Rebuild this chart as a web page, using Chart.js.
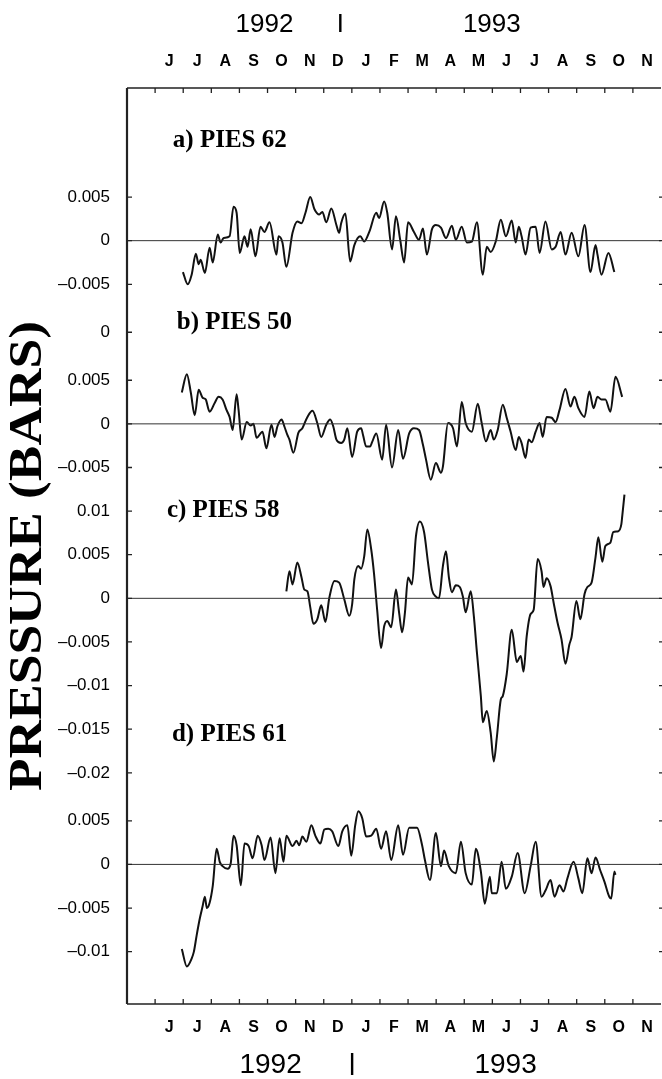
<!DOCTYPE html>
<html>
<head>
<meta charset="utf-8">
<script src="https://cdn.jsdelivr.net/npm/chart.js@4.4.1/dist/chart.umd.min.js"></script>
<style>
    html, body { margin: 0; padding: 0; background: #fff; }
    canvas { display: block; }
</style>
</head>
<body>
<canvas id="piesChart" width="662" height="1079"></canvas>
<script>
// time axis: months counted from Jan 1992 (6 = 1 Jul 1992, 12 = 1 Jan 1993)
const monthLetters = ['J', 'J', 'A', 'S', 'O', 'N', 'D', 'J', 'F', 'M', 'A', 'M', 'J', 'J', 'A', 'S', 'O', 'N'];
const firstLabelMonth = 5;
const axisStart = 4;
const axisEnd = 23;
const yearLabels = ['1992', '1993'];

const panelNames = ['a) PIES 62', 'b) PIES 50', 'c) PIES 58', 'd) PIES 61'];
// where each panel's zero sits on the shared stacked axis
const panelOffsets = [0.0875, 0.0665, 0.0465, 0.016];
const panelTickValues = [
    [0.005, 0, -0.005],
    [0.0105, 0.005, 0, -0.005],
    [0.01, 0.005, 0, -0.005, -0.01, -0.015, -0.02],
    [0.005, 0, -0.005, -0.01]
];
const panelTickLabels = [
    ['0.005', '0', '\u20130.005'],
    ['0', '0.005', '0', '\u20130.005'],
    ['0.01', '0.005', '0', '\u20130.005', '\u20130.01', '\u20130.015', '\u20130.02'],
    ['0.005', '0', '\u20130.005', '\u20130.01']
];

// bottom pressure, bars
const pies62Months = [5.99, 6.16, 6.30, 6.45, 6.55, 6.62, 6.77, 6.94, 7.05, 7.23, 7.33, 7.44, 7.65, 7.79, 7.90, 8.01, 8.18, 8.29, 8.40, 8.57, 8.75, 8.89, 9.07, 9.32, 9.39, 9.53, 9.67, 9.89, 10.06, 10.21, 10.35, 10.52, 10.67, 10.84, 10.95, 11.09, 11.27, 11.45, 11.55, 11.62, 11.77, 11.94, 12.09, 12.30, 12.44, 12.62, 12.87, 12.97, 13.15, 13.26, 13.43, 13.57, 13.72, 13.86, 14.00, 14.21, 14.39, 14.53, 14.67, 14.85, 14.99, 15.17, 15.35, 15.56, 15.70, 15.91, 16.09, 16.27, 16.45, 16.66, 16.80, 16.94, 17.12, 17.30, 17.48, 17.69, 17.83, 17.94, 18.04, 18.18, 18.36, 18.54, 18.68, 18.89, 19.11, 19.25, 19.43, 19.60, 19.82, 20.06, 20.28, 20.49, 20.67, 20.74, 20.88, 21.13, 21.34];
const pies62Values = [-0.0036, -0.0050, -0.0039, -0.0015, -0.0027, -0.0022, -0.0037, -0.0008, -0.0025, 0.0007, -0.0002, 0.0003, 0.0005, 0.0039, 0.0032, -0.0014, 0.0005, -0.0007, 0.0013, -0.0018, 0.0016, 0.0010, 0.0021, -0.0016, 0.0005, -0.0002, -0.0030, 0.0009, 0.0022, 0.0020, 0.0032, 0.0050, 0.0036, 0.0030, 0.0033, 0.0021, 0.0037, 0.0018, 0.0009, 0.0020, 0.0031, -0.0024, -0.0005, 0.0005, -0.0001, 0.0010, 0.0032, 0.0026, 0.0045, 0.0032, -0.0010, 0.0028, 0.0001, -0.0025, 0.0021, 0.0010, 0.0001, 0.0014, -0.0016, 0.0013, 0.0018, 0.0015, 0.0003, 0.0017, 0.0001, 0.0016, -0.0002, -0.0001, 0.0021, -0.0039, -0.0007, -0.0013, -0.0001, 0.0024, 0.0005, 0.0023, -0.0002, 0.0016, 0.0005, -0.0016, 0.0015, 0.0016, -0.0014, 0.0022, -0.0010, -0.0007, 0.0010, -0.0016, 0.0009, -0.0018, 0.0018, -0.0036, -0.0005, -0.0016, -0.0039, -0.0014, -0.0036];

const pies50Months = [5.95, 6.13, 6.27, 6.41, 6.55, 6.69, 6.80, 6.94, 7.12, 7.26, 7.40, 7.54, 7.65, 7.76, 7.90, 7.97, 8.08, 8.26, 8.40, 8.50, 8.61, 8.82, 8.96, 9.14, 9.25, 9.35, 9.50, 9.60, 9.71, 9.78, 9.92, 10.10, 10.24, 10.42, 10.60, 10.77, 10.91, 11.09, 11.23, 11.34, 11.45, 11.62, 11.73, 11.84, 12.01, 12.19, 12.33, 12.40, 12.51, 12.65, 12.72, 12.87, 13.08, 13.22, 13.43, 13.65, 13.82, 14.04, 14.21, 14.39, 14.53, 14.64, 14.81, 14.99, 15.17, 15.24, 15.42, 15.60, 15.74, 15.91, 16.05, 16.27, 16.48, 16.62, 16.77, 16.94, 17.05, 17.19, 17.37, 17.51, 17.65, 17.83, 17.94, 18.04, 18.18, 18.29, 18.40, 18.54, 18.68, 18.79, 18.93, 19.11, 19.25, 19.39, 19.60, 19.78, 19.92, 20.06, 20.28, 20.45, 20.60, 20.74, 20.88, 21.02, 21.20, 21.38, 21.62];
const pies50Values = [0.0036, 0.0057, 0.0036, 0.0010, 0.0039, 0.0030, 0.0028, 0.0014, 0.0024, 0.0031, 0.0028, 0.0016, 0.0008, -0.0007, 0.0034, 0.0016, -0.0018, 0.0002, -0.0002, 0.0000, -0.0016, -0.0009, -0.0028, -0.0001, -0.0015, -0.0003, 0.0005, -0.0003, -0.0013, -0.0018, -0.0033, -0.0010, -0.0005, 0.0008, 0.0015, 0.0001, -0.0015, -0.0001, 0.0005, -0.0003, -0.0018, -0.0022, -0.0018, -0.0005, -0.0038, -0.0009, -0.0005, -0.0013, -0.0026, -0.0026, -0.0021, -0.0011, -0.0041, -0.0001, -0.0050, -0.0007, -0.0040, -0.0011, -0.0005, -0.0007, -0.0024, -0.0041, -0.0064, -0.0045, -0.0056, -0.0049, 0.0001, -0.0005, -0.0026, 0.0025, 0.0001, -0.0009, 0.0023, 0.0001, -0.0020, -0.0007, -0.0018, -0.0007, 0.0022, 0.0007, -0.0009, -0.0030, -0.0015, -0.0022, -0.0039, -0.0018, -0.0021, -0.0009, 0.0001, -0.0015, 0.0008, 0.0007, 0.0002, 0.0016, 0.0040, 0.0020, 0.0031, 0.0018, 0.0008, 0.0037, 0.0018, 0.0031, 0.0028, 0.0028, 0.0014, 0.0054, 0.0031];

const pies58Months = [9.67, 9.78, 9.89, 10.06, 10.21, 10.31, 10.42, 10.52, 10.63, 10.77, 10.91, 11.06, 11.20, 11.38, 11.55, 11.73, 11.91, 12.01, 12.09, 12.23, 12.33, 12.44, 12.55, 12.69, 12.79, 12.90, 13.04, 13.15, 13.26, 13.40, 13.57, 13.68, 13.79, 13.89, 14.00, 14.14, 14.28, 14.42, 14.57, 14.71, 14.85, 14.99, 15.10, 15.24, 15.35, 15.45, 15.56, 15.70, 15.84, 15.95, 16.05, 16.23, 16.34, 16.45, 16.59, 16.66, 16.80, 16.94, 17.05, 17.16, 17.30, 17.37, 17.51, 17.69, 17.87, 18.01, 18.11, 18.22, 18.36, 18.47, 18.61, 18.75, 18.82, 18.93, 19.07, 19.18, 19.32, 19.46, 19.60, 19.74, 19.82, 19.99, 20.13, 20.28, 20.38, 20.53, 20.67, 20.77, 20.91, 21.02, 21.20, 21.30, 21.48, 21.59, 21.62, 21.70];
const pies58Values = [0.0008, 0.0031, 0.0016, 0.0041, 0.0024, 0.0010, 0.0008, -0.0010, -0.0029, -0.0024, -0.0008, -0.0027, 0.0001, 0.0020, 0.0018, -0.0001, -0.0020, -0.0007, 0.0022, 0.0037, 0.0034, 0.0048, 0.0079, 0.0056, 0.0028, -0.0013, -0.0057, -0.0032, -0.0026, -0.0033, 0.0010, -0.0016, -0.0039, -0.0016, 0.0024, 0.0016, 0.0071, 0.0088, 0.0076, 0.0041, 0.0010, 0.0002, 0.0000, 0.0037, 0.0054, 0.0025, 0.0007, 0.0015, 0.0013, 0.0002, -0.0016, 0.0008, -0.0020, -0.0062, -0.0112, -0.0142, -0.0129, -0.0154, -0.0187, -0.0159, -0.0116, -0.0112, -0.0087, -0.0036, -0.0073, -0.0066, -0.0084, -0.0044, -0.0018, -0.0013, 0.0045, 0.0031, 0.0013, 0.0023, 0.0014, -0.0005, -0.0028, -0.0047, -0.0075, -0.0053, -0.0044, -0.0003, -0.0024, 0.0005, 0.0013, 0.0018, 0.0047, 0.0070, 0.0042, 0.0060, 0.0064, 0.0076, 0.0077, 0.0085, 0.0094, 0.0119];

const pies61Months = [5.95, 6.13, 6.30, 6.38, 6.48, 6.59, 6.69, 6.77, 6.84, 6.94, 7.05, 7.19, 7.30, 7.40, 7.58, 7.69, 7.79, 7.90, 8.05, 8.18, 8.33, 8.47, 8.65, 8.79, 8.89, 9.11, 9.28, 9.43, 9.57, 9.67, 9.89, 10.03, 10.13, 10.24, 10.38, 10.56, 10.70, 10.88, 11.02, 11.16, 11.30, 11.52, 11.66, 11.84, 11.98, 12.12, 12.23, 12.37, 12.51, 12.69, 12.87, 13.04, 13.22, 13.40, 13.65, 13.82, 14.04, 14.32, 14.50, 14.60, 14.78, 14.99, 15.17, 15.28, 15.45, 15.70, 15.88, 16.05, 16.27, 16.41, 16.59, 16.73, 16.91, 16.98, 17.16, 17.33, 17.48, 17.69, 17.90, 18.15, 18.36, 18.54, 18.75, 18.89, 19.07, 19.21, 19.39, 19.53, 19.67, 19.89, 20.06, 20.20, 20.38, 20.53, 20.67, 20.84, 20.99, 21.16, 21.23, 21.34, 21.38];
const pies61Values = [-0.0097, -0.0117, -0.0108, -0.0100, -0.0081, -0.0062, -0.0048, -0.0037, -0.0050, -0.0044, -0.0025, 0.0018, 0.0003, -0.0002, -0.0005, 0.0001, 0.0033, 0.0022, -0.0024, 0.0024, 0.0021, 0.0007, 0.0033, 0.0022, 0.0005, 0.0031, -0.0010, 0.0030, 0.0003, 0.0033, 0.0021, 0.0027, 0.0022, 0.0032, 0.0026, 0.0045, 0.0033, 0.0024, 0.0040, 0.0041, 0.0038, 0.0021, 0.0038, 0.0045, 0.0010, 0.0045, 0.0061, 0.0053, 0.0032, 0.0033, 0.0041, 0.0018, 0.0038, 0.0005, 0.0045, 0.0011, 0.0042, 0.0042, 0.0022, 0.0005, -0.0018, 0.0036, -0.0002, 0.0016, -0.0002, -0.0010, 0.0026, -0.0010, -0.0023, 0.0018, -0.0008, -0.0045, -0.0014, -0.0033, -0.0033, 0.0003, -0.0028, -0.0014, 0.0013, -0.0033, -0.0002, 0.0026, -0.0037, -0.0030, -0.0018, -0.0037, -0.0024, -0.0031, -0.0016, 0.0003, -0.0016, -0.0033, 0.0007, -0.0010, 0.0008, -0.0007, -0.0020, -0.0037, -0.0039, -0.0008, -0.0012];

const seriesMonths = [pies62Months, pies50Months, pies58Months, pies61Months];
const seriesValues = [pies62Values, pies50Values, pies58Values, pies61Values];

const labelFont = '"Liberation Sans", Arial, Helvetica, sans-serif';
const serifFont = '"Liberation Serif", "Times New Roman", serif';
const ink = '#000';

function buildSeries(i) {
    return seriesMonths[i].map(function (m, k) {
        return { x: m, y: seriesValues[i][k] + panelOffsets[i] };
    });
}

// all tick labels on the one stacked axis
const stackedTicks = [];
panelTickValues.forEach(function (vals, i) {
    vals.forEach(function (v, k) {
        stackedTicks.push({ value: +(v + panelOffsets[i]).toFixed(5), label: panelTickLabels[i][k] });
    });
});

const datasets = [];
panelOffsets.forEach(function (off) {
    datasets.push({
        data: [{ x: axisStart, y: off }, { x: axisEnd, y: off }],
        borderColor: '#333',
        borderWidth: 1,
        pointRadius: 0
    });
});
panelNames.forEach(function (name, i) {
    datasets.push({
        label: name,
        data: buildSeries(i),
        borderColor: '#111',
        borderWidth: 2,
        pointRadius: 0,
        cubicInterpolationMode: 'monotone'
    });
});

// frame, inward ticks and the loose texts
const decorPlugin = {
    id: 'decor',
    afterDraw: function (chart) {
        const ctx = chart.ctx;
        const a = chart.chartArea;
        const xs = chart.scales.x;
        const ys = chart.scales.y;
        ctx.save();
        ctx.strokeStyle = '#222';
        ctx.lineWidth = 1.5;
        ctx.beginPath();
        ctx.moveTo(a.right, a.top);
        ctx.lineTo(a.left, a.top);
        ctx.moveTo(a.left, a.bottom);
        ctx.lineTo(a.right, a.bottom);
        ctx.stroke();
        ctx.lineWidth = 2.2;
        ctx.beginPath();
        ctx.moveTo(a.left, a.top);
        ctx.lineTo(a.left, a.bottom);
        ctx.stroke();

        ctx.lineWidth = 1.3;
        ctx.beginPath();
        for (let m = axisStart + 1; m < axisEnd; m++) {
            const px = xs.getPixelForValue(m);
            ctx.moveTo(px, a.top);
            ctx.lineTo(px, a.top + 5);
            ctx.moveTo(px, a.bottom);
            ctx.lineTo(px, a.bottom - 5);
        }
        stackedTicks.forEach(function (t) {
            const py = ys.getPixelForValue(t.value);
            ctx.moveTo(a.left, py);
            ctx.lineTo(a.left + 5, py);
            ctx.moveTo(a.right + 1, py);
            ctx.lineTo(a.right - 2, py);
        });
        ctx.stroke();

        ctx.fillStyle = ink;
        ctx.font = 'bold 25px ' + serifFont;
        ctx.textAlign = 'left';
        ctx.textBaseline = 'alphabetic';
        const nameAnchors = [[5.63, 0.0982], [5.77, 0.0774], [5.42, 0.0558], [5.60, 0.0301]];
        panelNames.forEach(function (name, i) {
            ctx.fillText(name, xs.getPixelForValue(nameAnchors[i][0]), ys.getPixelForValue(nameAnchors[i][1]));
        });

        // years above and below
        ctx.textAlign = 'center';
        ctx.font = '26px ' + labelFont;
        ctx.fillText(yearLabels[0], xs.getPixelForValue(8.89), 32);
        ctx.fillText(yearLabels[1], xs.getPixelForValue(16.98), 32);
        ctx.font = '28px ' + labelFont;
        ctx.fillText(yearLabels[0], xs.getPixelForValue(9.11), 1073);
        ctx.fillText(yearLabels[1], xs.getPixelForValue(17.47), 1073);
        ctx.lineWidth = 2.4;
        ctx.strokeStyle = ink;
        ctx.beginPath();
        const sepTop = xs.getPixelForValue(11.59);
        ctx.moveTo(sepTop, 14);
        ctx.lineTo(sepTop, 32);
        const sepBottom = xs.getPixelForValue(12.01);
        ctx.moveTo(sepBottom, 1053);
        ctx.lineTo(sepBottom, 1075);
        ctx.stroke();

        // vertical axis title
        ctx.translate(29, 556);
        ctx.rotate(-Math.PI / 2);
        ctx.scale(1.16, 1);
        ctx.font = 'bold 46px ' + serifFont;
        ctx.textBaseline = 'middle';
        ctx.fillText('PRESSURE (BARS)', 0, 0);
        ctx.restore();
    }
};

function monthTicks(scale) {
    scale.ticks = monthLetters.map(function (l, i) {
        return { value: firstLabelMonth + i + 0.5 };
    });
}

function monthLabel(value) {
    const i = Math.round(value - 0.5) - firstLabelMonth;
    return monthLetters[i] || '';
}

function noSidePadding(scale) {
    scale.paddingLeft = 0;
    scale.paddingRight = 0;
}

const monthTickStyle = {
    autoSkip: false,
    maxRotation: 0,
    color: ink,
    font: { family: labelFont, size: 16, weight: 'bold' },
    callback: monthLabel
};

new Chart(document.getElementById('piesChart').getContext('2d'), {
    type: 'line',
    data: { datasets: datasets },
    plugins: [decorPlugin],
    options: {
        responsive: false,
        animation: false,
        devicePixelRatio: 1,
        layout: { padding: { left: 0, right: 1, top: 0, bottom: 0 } },
        plugins: {
            legend: { display: false },
            tooltip: { enabled: false }
        },
        scales: {
            x: {
                type: 'linear',
                position: 'bottom',
                min: axisStart,
                max: axisEnd,
                grid: { display: false, drawTicks: false },
                border: { display: false },
                afterBuildTicks: monthTicks,
                afterFit: function (scale) { scale.height = 75; noSidePadding(scale); },
                ticks: Object.assign({ padding: 14 }, monthTickStyle)
            },
            xTop: {
                type: 'linear',
                position: 'top',
                min: axisStart,
                max: axisEnd,
                grid: { display: false, drawTicks: false },
                border: { display: false },
                afterBuildTicks: monthTicks,
                afterFit: function (scale) { scale.height = 88; noSidePadding(scale); },
                ticks: Object.assign({ padding: 17 }, monthTickStyle)
            },
            y: {
                type: 'linear',
                min: 0,
                max: 0.105,
                grid: { display: false, drawTicks: false },
                border: { display: false },
                afterBuildTicks: function (scale) {
                    scale.ticks = stackedTicks.map(function (t) { return { value: t.value }; });
                },
                afterFit: function (scale) { scale.width = 127; },
                ticks: {
                    autoSkip: false,
                    padding: 17,
                    color: ink,
                    font: { family: labelFont, size: 17 },
                    callback: function (value) {
                        const t = stackedTicks.find(function (s) { return Math.abs(s.value - value) < 1e-6; });
                        return t ? t.label : '';
                    }
                }
            }
        }
    }
});
</script>
</body>
</html>
